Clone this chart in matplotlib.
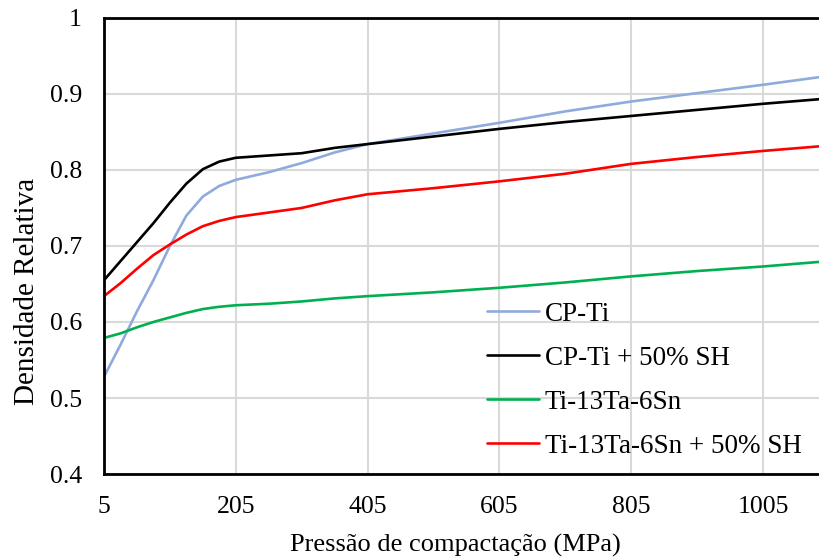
import matplotlib
matplotlib.use('Agg')
import matplotlib.pyplot as plt

plt.rcParams['font.family'] = ['Liberation Serif', 'DejaVu Serif']

# pressão de compactação (MPa)
pressao = [5, 30, 55, 80, 105, 130, 155, 180, 205, 255, 305, 355, 405,
           505, 605, 705, 805, 905, 1005, 1090]

cp_ti = [0.528, 0.570, 0.614, 0.655, 0.700, 0.740, 0.765, 0.779, 0.787, 0.797,
         0.809, 0.823, 0.834, 0.848, 0.862, 0.877, 0.890, 0.901, 0.912, 0.922]
cp_ti_sh = [0.655, 0.680, 0.705, 0.730, 0.757, 0.782, 0.801, 0.811, 0.816, 0.819,
            0.822, 0.829, 0.834, 0.844, 0.854, 0.863, 0.871, 0.879, 0.887, 0.893]
ti_ta_sn = [0.579, 0.585, 0.593, 0.600, 0.606, 0.612, 0.617, 0.620, 0.622, 0.624,
            0.627, 0.631, 0.634, 0.639, 0.645, 0.652, 0.660, 0.667, 0.673, 0.679]
ti_ta_sn_sh = [0.634, 0.651, 0.670, 0.688, 0.702, 0.715, 0.726, 0.733, 0.738, 0.744,
               0.750, 0.760, 0.768, 0.776, 0.785, 0.795, 0.808, 0.817, 0.825, 0.831]

labels = ['CP-Ti', 'CP-Ti + 50% SH', 'Ti-13Ta-6Sn', 'Ti-13Ta-6Sn + 50% SH']
colors = ['#8faadc', '#000000', '#00b050', '#ff0000']
xticks = [5, 205, 405, 605, 805, 1005]
yticks = [0.4, 0.5, 0.6, 0.7, 0.8, 0.9, 1.0]
ytick_labels = ['0.4', '0.5', '0.6', '0.7', '0.8', '0.9', '1']

fig = plt.figure(figsize=(8.19, 5.59), dpi=100)
ax = fig.add_axes([0.127, 0.152, 0.873, 0.816])

for serie, lab, cor in zip([cp_ti, cp_ti_sh, ti_ta_sn, ti_ta_sn_sh], labels, colors):
    ax.plot(pressao, serie, color=cor, linewidth=1.9, label=lab,
            solid_joinstyle='round', solid_capstyle='round')

ax.set_xlim(5, 1090)
ax.set_ylim(0.4, 1.0)
ax.set_xticks(xticks)
ax.set_yticks(yticks)
ax.set_yticklabels(ytick_labels)
ax.tick_params(length=0, labelsize=18.5)
ax.tick_params(axis='y', pad=16)
ax.tick_params(axis='x', pad=16)
ax.grid(True, color='#d9d9d9', linewidth=1.5)
ax.set_axisbelow(True)

for s in ['left', 'bottom', 'top']:
    ax.spines[s].set_linewidth(2)
    ax.spines[s].set_color('black')
ax.spines['right'].set_visible(False)

ax.set_xlabel('Pressão de compactação (MPa)', fontsize=19, labelpad=11)
ax.xaxis.label.set_x(0.491)
ax.set_ylabel('Densidade Relativa', fontsize=21, labelpad=7)
ax.yaxis.label.set_y(0.40)

ax.legend(loc='lower left', bbox_to_anchor=(0.52, 0.01), frameon=False,
          fontsize=19.5, handlelength=1.95, handletextpad=0.2, labelspacing=0.7,
          borderaxespad=0)

fig.savefig('out.png', dpi=100)
